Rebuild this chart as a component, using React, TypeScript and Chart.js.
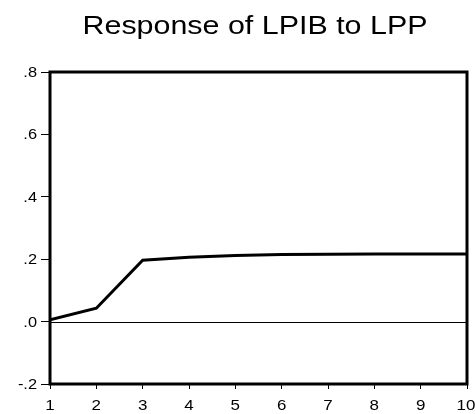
import React, { useEffect, useRef } from "react";
import { Chart, registerables } from "chart.js";

Chart.register(...registerables);

const titleText = "Response of LPIB to LPP";
const periods = [1, 2, 3, 4, 5, 6, 7, 8, 9, 10];
const response = [0.006, 0.043, 0.197, 0.206, 0.212, 0.215, 0.216, 0.217, 0.217, 0.217];
const yTicks = [-0.2, 0.0, 0.2, 0.4, 0.6, 0.8];

const fmtY = (v: number) => {
  const s = Math.abs(v).toFixed(1).replace(/^0/, "");
  return v < -1e-9 ? "-" + s : s;
};

const FONT = "'Liberation Sans', Arial, sans-serif";
const STRETCH = 1.17;

function stretchedText(ctx: CanvasRenderingContext2D, text: string, x: number, y: number, align: CanvasTextAlign, baseline: CanvasTextBaseline, size: number) {
  ctx.save();
  ctx.font = `${size}px ${FONT}`;
  ctx.fillStyle = "#000";
  ctx.textAlign = align;
  ctx.textBaseline = baseline;
  ctx.translate(x, y);
  ctx.scale(STRETCH, 1);
  ctx.fillText(text, 0, 0);
  ctx.restore();
}

const framePlugin = {
  id: "frame",
  afterDatasetsDraw(chart: any) {
    const { ctx, chartArea, scales } = chart;
    const y0 = scales.y.getPixelForValue(0);
    ctx.save();
    ctx.strokeStyle = "#000";
    ctx.lineWidth = 1;
    ctx.beginPath();
    ctx.moveTo(chartArea.left, Math.round(y0) + 0.5);
    ctx.lineTo(chartArea.right, Math.round(y0) + 0.5);
    ctx.stroke();
    ctx.lineWidth = 3;
    ctx.strokeRect(chartArea.left, chartArea.top, chartArea.right - chartArea.left, chartArea.bottom - chartArea.top);
    ctx.restore();
  },
  afterDraw(chart: any) {
    const { ctx, chartArea, scales } = chart;
    // title
    stretchedText(ctx, titleText, 255, 34, "center", "alphabetic", 26);
    // x tick labels
    periods.forEach((p) => {
      const x = scales.x.getPixelForValue(p);
      let xx = x;
      if (p === periods[periods.length - 1]) xx = Math.min(x, 475 - 9);
      stretchedText(ctx, String(p), xx, chartArea.bottom + 26, "center", "alphabetic", 14.5);
    });
    // y tick labels
    yTicks.forEach((v) => {
      const y = scales.y.getPixelForValue(v);
      stretchedText(ctx, fmtY(v), 37, y + 5, "right", "alphabetic", 14);
    });
  },
};

export default function App() {
  const ref = useRef<HTMLCanvasElement | null>(null);
  useEffect(() => {
    document.body.style.margin = "0";
    const chart = new Chart(ref.current as HTMLCanvasElement, {
      type: "line",
      data: {
        datasets: [
          {
            data: periods.map((p, i) => ({ x: p, y: response[i] })),
            borderColor: "#000",
            borderWidth: 3,
            pointRadius: 0,
            tension: 0,
            fill: false,
          },
        ],
      },
      options: {
        animation: false,
        responsive: false,
        maintainAspectRatio: false,
        layout: { padding: { top: 72, left: 0, right: 8, bottom: 0 } },
        plugins: {
          legend: { display: false },
          tooltip: { enabled: false },
          title: { display: false },
        },
        scales: {
          x: {
            type: "linear",
            min: 1,
            max: 10,
            afterBuildTicks: (s: any) => {
              s.ticks = periods.map((v) => ({ value: v }));
            },
            afterFit: (s: any) => {
              s.height = 30;
              s.paddingLeft = 0;
              s.paddingRight = 0;
            },
            border: { display: false },
            grid: { drawOnChartArea: false, drawTicks: true, tickLength: 5, color: "#000", lineWidth: 1 },
            ticks: { display: false },
          },
          y: {
            type: "linear",
            min: -0.2,
            max: 0.8,
            afterBuildTicks: (s: any) => {
              s.ticks = yTicks.map((v) => ({ value: v }));
            },
            afterFit: (s: any) => {
              s.width = 50;
              s.paddingTop = 0;
              s.paddingBottom = 0;
            },
            border: { display: false },
            grid: { drawOnChartArea: false, drawTicks: true, tickLength: 9, color: "#000", lineWidth: 1 },
            ticks: { display: false },
          },
        },
      },
      plugins: [framePlugin],
    } as any);
    return () => chart.destroy();
  }, []);
  return (
    <div style={{ position: "absolute", left: 0, top: 0, width: 475, height: 414 }}>
      <canvas ref={ref} width={475} height={414} style={{ display: "block" }} />
    </div>
  );
}
